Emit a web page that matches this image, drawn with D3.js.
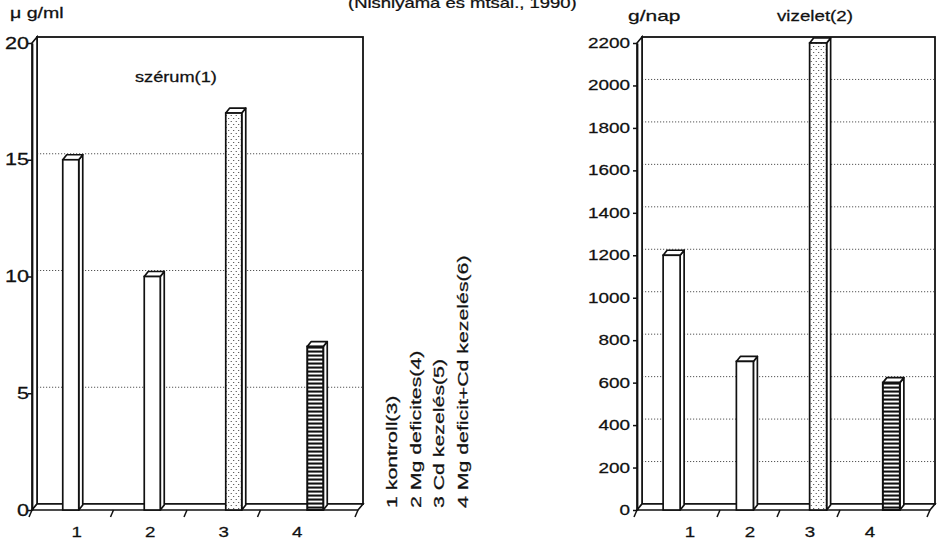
<!DOCTYPE html>
<html>
<head>
<meta charset="utf-8">
<script src="https://cdn.jsdelivr.net/npm/d3@7/dist/d3.min.js"></script>
<style>
  html, body { margin: 0; padding: 0; background: #fff; }
  svg { display: block; }
  text { font-family: "Liberation Sans", Arial, Helvetica, sans-serif; fill: #111; stroke: #111; stroke-width: 0.25px; }
</style>
</head>
<body>
<svg id="chart" width="939" height="543"></svg>
<script>
// Cd and Mg: serum level and daily urinary excretion for four treatment groups
const categories = ["1", "2", "3", "4"];
const legendLabels = [
  "1 kontroll(3)",
  "2 Mg deficites(4)",
  "3 Cd kezelés(5)",
  "4 Mg deficit+Cd kezelés(6)"
];
const serumValues = [15, 10, 17, 7];          // µg/ml
const urineValues = [1200, 700, 2200, 600];   // g/nap
const serumTicks = [0, 5, 10, 15, 20];
const urineTicks = [0, 200, 400, 600, 800, 1000, 1200, 1400, 1600, 1800, 2000, 2200];

const svg = d3.select("#chart");
const defs = svg.append("defs");

// stippled fill (Cd treatment)
const dots = defs.append("pattern").attr("id", "fill-dots")
  .attr("patternUnits", "userSpaceOnUse").attr("width", 5).attr("height", 6);
dots.append("rect").attr("width", 5).attr("height", 6).attr("fill", "#fff");
dots.append("circle").attr("cx", 1.2).attr("cy", 1.5).attr("r", 0.6).attr("fill", "#222");
dots.append("circle").attr("cx", 3.7).attr("cy", 4.5).attr("r", 0.6).attr("fill", "#222");

// horizontal hatching (Mg deficit + Cd)
const stripes = defs.append("pattern").attr("id", "fill-stripes")
  .attr("patternUnits", "userSpaceOnUse").attr("width", 4).attr("height", 4);
stripes.append("rect").attr("width", 4).attr("height", 4).attr("fill", "#111");
stripes.append("rect").attr("y", 0.6).attr("width", 4).attr("height", 1.9).attr("fill", "#fff");

const frontFill = d3.scaleOrdinal(categories, ["#fff", "#fff", "url(#fill-dots)", "url(#fill-stripes)"]);

// text helper: glyphs are set wide, so each label is stretched along its baseline
function wideText(parent, str, x, y, size, sx, anchor = "start", angle = 0) {
  return parent.append("text")
    .attr("transform", `translate(${x},${y}) rotate(${angle}) scale(${sx},1)`)
    .attr("font-size", size)
    .attr("text-anchor", anchor)
    .text(str);
}

function drawPanel(opt) {
  const g = svg.append("g");
  const { x0, x1, y, max, values, ticks, barW, labelRange } = opt;
  const dx = 5, dy = -6;      // wall depth
  const bdx = 4, bdy = -5;    // column depth
  const y0 = y(0), yM = y(max);

  // back wall
  g.append("rect")
    .attr("x", x0 + dx).attr("y", yM + dy)
    .attr("width", x1 - x0).attr("height", y0 - yM)
    .attr("fill", "#fff").attr("stroke", "#111").attr("stroke-width", 1.8);

  // gridlines on the back wall
  g.append("g").selectAll("line")
    .data(ticks.filter(t => t > 0 && t < max))
    .join("line")
    .attr("x1", x0 + dx).attr("x2", x1 + dx)
    .attr("y1", d => y(d) + dy).attr("y2", d => y(d) + dy)
    .attr("stroke", "#555").attr("stroke-width", 1)
    .attr("stroke-dasharray", "1.2,1.8");

  // left side wall
  g.append("polygon")
    .attr("points", [[x0, y0], [x0, yM], [x0 + dx, yM + dy], [x0 + dx, y0 + dy]].join(" "))
    .attr("fill", "#fff").attr("stroke", "#111").attr("stroke-width", 1.6);

  // floor
  g.append("polygon")
    .attr("points", [[x0, y0], [x1, y0], [x1 + dx, y0 + dy], [x0 + dx, y0 + dy]].join(" "))
    .attr("fill", "#fff").attr("stroke", "#111").attr("stroke-width", 1.6);

  // columns
  const band = d3.scaleBand(categories, [x0, x1]);
  const bars = g.append("g").selectAll("g")
    .data(categories.map((c, i) => ({ c, v: values[i] })))
    .join("g");
  const fx = d => band(d.c) + (band.bandwidth() - barW - bdx) / 2;

  bars.append("polygon") // side
    .attr("points", d => [[fx(d) + barW, y(d.v)], [fx(d) + barW + bdx, y(d.v) + bdy],
                          [fx(d) + barW + bdx, y0 + bdy], [fx(d) + barW, y0]].join(" "))
    .attr("fill", "#fff").attr("stroke", "#111").attr("stroke-width", 1.7)
    .attr("stroke-linejoin", "round");
  bars.append("polygon") // top
    .attr("points", d => [[fx(d), y(d.v)], [fx(d) + barW, y(d.v)],
                          [fx(d) + barW + bdx, y(d.v) + bdy], [fx(d) + bdx, y(d.v) + bdy]].join(" "))
    .attr("fill", "#fff").attr("stroke", "#111").attr("stroke-width", 1.7)
    .attr("stroke-linejoin", "round");
  bars.append("rect") // front
    .attr("x", fx).attr("y", d => y(d.v))
    .attr("width", barW).attr("height", d => y0 - y(d.v))
    .attr("fill", d => frontFill(d.c))
    .attr("stroke", "#111").attr("stroke-width", d => d.c === "4" ? 2 : 1.7);

  // value axis on the front edge
  const yAxis = g.append("g").attr("transform", `translate(${x0},0)`)
    .call(d3.axisLeft(y).tickValues(ticks).tickSize(4).tickSizeOuter(0)
      .tickPadding(opt.tickPad).tickFormat(d3.format("d")));
  yAxis.select(".domain").attr("stroke", "#111").attr("stroke-width", 1.8);
  yAxis.selectAll(".tick line").attr("stroke", "#111").attr("stroke-width", 1.5);
  yAxis.selectAll(".tick text")
    .attr("fill", "#111")
    .attr("font-family", "Liberation Sans, Arial, sans-serif")
    .attr("font-size", opt.tickSize)
    .attr("x", -(4 + opt.tickPad) / opt.tickStretch)
    .attr("transform", `scale(${opt.tickStretch},1)`);

  // category axis: slanted ticks and labels
  const lab = d3.scaleBand(categories, labelRange);
  const tickXs = [x0, ...categories.slice(1).map(c => lab(c)), x1];
  g.append("g").selectAll("line").data(tickXs).join("line")
    .attr("x1", d => d).attr("y1", y0)
    .attr("x2", d => d - 3).attr("y2", y0 + 7)
    .attr("stroke", "#111").attr("stroke-width", 1.5);
  categories.forEach(c => {
    wideText(g, c, lab(c) + lab.bandwidth() / 2, y0 + 27, 15, 1.25, "middle");
  });
  return g;
}

// serum panel
drawPanel({
  x0: 32, x1: 358,
  y: d3.scaleLinear([0, 20], [510, 43]), max: 20,
  values: serumValues, ticks: serumTicks, barW: 16,
  labelRange: [40, 334],
  tickSize: 16, tickStretch: 1.35, tickPad: -1
});

// urine panel
drawPanel({
  x0: 637, x1: 930,
  y: d3.scaleLinear([0, 2200], [510, 43]), max: 2200,
  values: urineValues, ticks: urineTicks, barW: 17,
  labelRange: [660, 900],
  tickSize: 14, tickStretch: 1.35, tickPad: 3
});

// headings
wideText(svg, "(Nishiyama és mtsai., 1990)", 348, 8, 14, 1.32);
wideText(svg, "μ g/ml", 10, 18, 14, 1.4);
wideText(svg, "szérum(1)", 135, 82, 14, 1.3);
wideText(svg, "g/nap", 628, 21, 15, 1.4);
wideText(svg, "vizelet(2)", 777, 21, 15, 1.25);

// group legend, set vertically between the panels
legendLabels.forEach((t, i) => {
  wideText(svg, t, 397 + i * 23.5, 508, 15, 1.42, "start", -90);
});
</script>
</body>
</html>
